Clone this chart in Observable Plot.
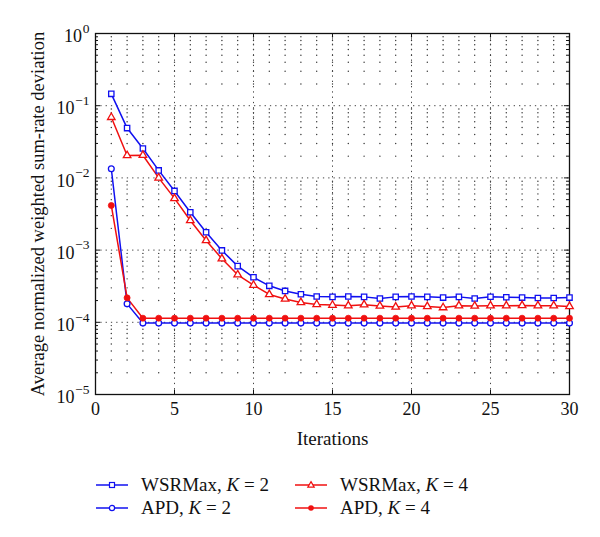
<!DOCTYPE html>
<html><head><meta charset="utf-8">
<script src="https://cdn.jsdelivr.net/npm/d3@7"></script>
<script src="https://cdn.jsdelivr.net/npm/@observablehq/plot@0.6"></script>
<style>
body{margin:0;background:#fff;font-family:"Liberation Serif",serif;}
#wrap{position:relative;width:600px;height:537px;background:#fff;}
#wrap svg.chart{position:absolute;left:0;top:0;}
.leg{position:absolute;font-size:19px;line-height:20px;display:flex;align-items:center;white-space:nowrap;color:#111;}
.leg svg{margin-right:13px;}
</style></head><body><div id="wrap"></div>
<script>
// ---- data ----
const iterations = [1,2,3,4,5,6,7,8,9,10,11,12,13,14,15,16,17,18,19,20,21,22,23,24,25,26,27,28,29,30];
const wsrK2 = [0.146,0.049,0.0255,0.0127,0.0066,0.00335,0.00177,0.00099,0.0006,0.00042,0.00032,0.000272,0.000245,0.000228,0.000225,0.000228,0.000225,0.000214,0.000225,0.000228,0.000225,0.00022,0.000225,0.000214,0.000226,0.000222,0.00022,0.000217,0.000217,0.00022];
const wsrK4 = [0.069,0.0204,0.0206,0.0100,0.0052,0.00257,0.00136,0.00076,0.000455,0.000327,0.000243,0.00021,0.000188,0.000177,0.000173,0.00017,0.000175,0.000168,0.000163,0.00017,0.000166,0.00016,0.00017,0.000168,0.00017,0.00017,0.000171,0.00017,0.00017,0.000166];
const apdK2 = [0.0134,0.00018,0.0000975,0.0000975,0.0000975,0.0000975,0.0000975,0.0000975,0.0000975,0.0000975,0.0000975,0.0000975,0.0000975,0.0000975,0.0000975,0.0000975,0.0000975,0.0000975,0.0000975,0.0000975,0.0000975,0.0000975,0.0000975,0.0000975,0.0000975,0.0000975,0.0000975,0.0000975,0.0000975,0.0000975];
const apdK4 = [0.00415,0.000218,0.000114,0.000114,0.000114,0.000114,0.000114,0.000114,0.000114,0.000114,0.000114,0.000114,0.000114,0.000114,0.000114,0.000114,0.000114,0.000114,0.000114,0.000114,0.000114,0.000114,0.000114,0.000114,0.000114,0.000114,0.000114,0.000114,0.000114,0.000114];
const xTicks = [0,5,10,15,20,25,30];
const xTickLabels = ["0","5","10","15","20","25","30"];
const yTicks = [1e-5,1e-4,1e-3,1e-2,1e-1,1];
const yTickBase = ["10","10","10","10","10","10"];
const yTickExponents = ["−5","−4","−3","−2","−1","0"];
const xMinor = [1,2,3,4,6,7,8,9,11,12,13,14,16,17,18,19,21,22,23,24,26,27,28,29];
const xGrid = [5,10,15,20,25];
const mantissas = [2,3,4,5,6,7,8,9];
const seriesNames = ["WSRMax, K = 2","APD, K = 2","WSRMax, K = 4","APD, K = 4"];
const seriesColors = ["#1010f0","#1010f0","#f01010","#f01010"];

// ---- derived tables ----
const yMinor = [];
for (const d of [1e-5,1e-4,1e-3,1e-2,1e-1]) for (const m of mantissas) yMinor.push(m*d);
const yGrid = [1e-4,1e-3,1e-2,1e-1];
const lattice = [];
for (const x of [...xMinor, ...xGrid]) for (const y of yMinor) lattice.push({x, y});
const rows = (vals) => vals.map((v,i)=>({x: iterations[i], y: v}));
const s1 = rows(wsrK2), s2 = rows(apdK2), s3 = rows(wsrK4), s4 = rows(apdK4);
const blue = seriesColors[0], red = seriesColors[2];
const yTickRows = yTicks.map((v,i)=>({v, b: yTickBase[i], e: yTickExponents[i]}));
const yNeg = yTickRows.filter(d => d.e.length > 1);
const yPos = yTickRows.filter(d => d.e.length === 1);
const xTickRows = xTicks.map((v,i)=>({v, t: xTickLabels[i]}));

const chart = Plot.plot({
  width: 600, height: 460,
  marginLeft: 95, marginRight: 31, marginTop: 33, marginBottom: 66,
  style: {fontFamily: "Liberation Serif", fontSize: "18px", background: "transparent", color: "#111"},
  x: {domain: [0,30], axis: null},
  y: {type: "log", domain: [1e-5, 1], axis: null},
  marks: [
    // dotted grid
    Plot.dot(lattice, {x: "x", y: "y", r: 0.7, fill: "#333"}),
    Plot.ruleX(xGrid, {x: d=>d, stroke: "#444", strokeDasharray: "1.3,4"}),
    Plot.ruleY(yGrid, {y: d=>d, stroke: "#444", strokeDasharray: "1.3,4"}),
    // inward ticks
    Plot.ruleY(yMinor, {y: d=>d, x1: 0, x2: 0.19, stroke: "#111"}),
    Plot.ruleY(yMinor, {y: d=>d, x1: 29.81, x2: 30, stroke: "#111"}),
    Plot.ruleY(yTicks, {y: d=>d, x1: 0, x2: 0.32, stroke: "#111"}),
    Plot.ruleY(yTicks, {y: d=>d, x1: 29.68, x2: 30, stroke: "#111"}),
    Plot.ruleX(xTicks, {x: d=>d, y1: 1e-5, y2: 1.15e-5, stroke: "#111"}),
    Plot.ruleX(xTicks, {x: d=>d, y1: 0.87, y2: 1, stroke: "#111"}),
    Plot.frame({stroke: "#111", strokeWidth: 1.3}),
    // tick labels
    Plot.text(xTickRows, {x: "v", text: "t", frameAnchor: "bottom", lineAnchor: "top", dy: 8, fontSize: 18, fill: "#111"}),
    Plot.text(yNeg, {y: "v", text: "b", frameAnchor: "left", textAnchor: "end", dx: -21, dy: 3, fontSize: 18, fill: "#111"}),
    Plot.text(yPos, {y: "v", text: "b", frameAnchor: "left", textAnchor: "end", dx: -13.5, dy: 3, fontSize: 18, fill: "#111"}),
    Plot.text(yTickRows, {y: "v", text: "e", frameAnchor: "left", textAnchor: "end", dx: -6, dy: -5, fontSize: 13.5, fill: "#111"}),
    Plot.text(["Iterations"], {frameAnchor: "bottom", dy: 44, text: d=>d, fontSize: 19, lineAnchor: "middle", fill: "#111"}),
    Plot.text(["Average normalized weighted sum-rate deviation"], {frameAnchor: "left", dx: -57, rotate: -90, textAnchor: "middle", text: d=>d, fontSize: 18.5, lineAnchor: "middle", fill: "#111"}),
    // series
    Plot.line(s1, {x: "x", y: "y", stroke: blue, strokeWidth: 1.5}),
    Plot.line(s3, {x: "x", y: "y", stroke: red, strokeWidth: 1.5}),
    Plot.line(s2, {x: "x", y: "y", stroke: blue, strokeWidth: 1.5}),
    Plot.line(s4, {x: "x", y: "y", stroke: red, strokeWidth: 1.5}),
    Plot.dot(s1, {x: "x", y: "y", symbol: "square", r: 3.0, stroke: blue, fill: "white", strokeWidth: 1.3}),
    Plot.dot(s3, {x: "x", y: "y", symbol: "triangle", r: 2.8, stroke: red, fill: "white", strokeWidth: 1.3}),
    Plot.dot(s2, {x: "x", y: "y", symbol: "circle", r: 2.9, stroke: blue, fill: "white", strokeWidth: 1.3}),
    Plot.dot(s4, {x: "x", y: "y", symbol: "circle", r: 3, fill: red, stroke: red, strokeWidth: 0.8})
  ]
});
chart.classList.add("chart");
const wrap = document.getElementById("wrap");
wrap.appendChild(chart);

// ---- legend ----
const symbolSvg = (i) => {
  const c = seriesColors[i];
  let m;
  if (i === 0) m = `<rect x="13.5" y="4.5" width="5" height="5" fill="white" stroke="${c}" stroke-width="1.2"/>`;
  else if (i === 1) m = `<circle cx="16" cy="7" r="2.6" fill="white" stroke="${c}" stroke-width="1.2"/>`;
  else if (i === 2) m = `<path d="M16,3.6 L19.2,9.2 L12.8,9.2 Z" fill="white" stroke="${c}" stroke-width="1.2"/>`;
  else m = `<circle cx="16" cy="7" r="2.8" fill="${c}"/>`;
  return `<svg width="32" height="14" viewBox="0 0 32 14"><line x1="0" y1="7" x2="32" y2="7" stroke="${c}" stroke-width="1.5"/>${m}</svg>`;
};
const legendPos = [[96,475],[96,498],[295,475],[295,498]];
seriesNames.forEach((name, i) => {
  const div = document.createElement("div");
  div.className = "leg";
  div.style.left = legendPos[i][0] + "px";
  div.style.top = legendPos[i][1] + "px";
  div.innerHTML = symbolSvg(i) + `<span>${name.replace("K", "<i>K</i>")}</span>`;
  wrap.appendChild(div);
});
</script>
</body></html>
